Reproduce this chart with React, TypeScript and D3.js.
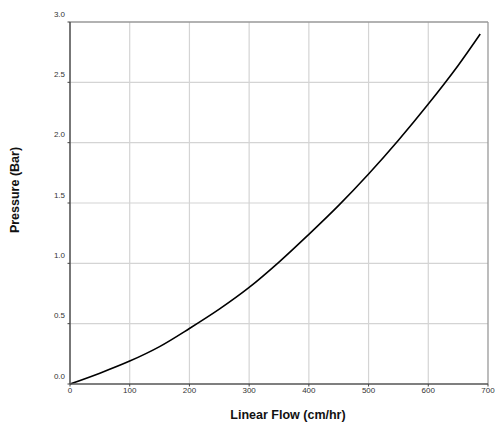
import React from "react";
import * as d3 from "d3";

const flow = [0, 50, 100, 150, 200, 250, 300, 350, 400, 450, 500, 550, 600, 650, 687];
const pressure = [0, 0.09, 0.19, 0.31, 0.46, 0.62, 0.8, 1.01, 1.24, 1.48, 1.74, 2.02, 2.32, 2.64, 2.9];
const xTicks = [0, 100, 200, 300, 400, 500, 600, 700];
const yTicks = [0, 0.5, 1.0, 1.5, 2.0, 2.5, 3.0];

const W = 495;
const H = 424;
const M = { left: 70, right: 7, top: 22, bottom: 40 };

export default function App() {
  const x = d3.scaleLinear().domain([0, 700]).range([M.left, W - M.right]);
  const y = d3.scaleLinear().domain([0, 3]).range([H - M.bottom, M.top]);
  const pts = flow.map((f, i) => [f, pressure[i]] as [number, number]);
  const line = d3
    .line<[number, number]>()
    .x((d) => x(d[0]))
    .y((d) => y(d[1]))
    .curve(d3.curveCatmullRom.alpha(0.5));
  const font = "Arial, 'Liberation Sans', Helvetica, sans-serif";
  const x0 = x(0), x1 = x(700), y0 = y(0), y1 = y(3);
  return (
    <svg
      width={W}
      height={H}
      style={{ position: "absolute", left: 0, top: 0, background: "#fff" }}
      fontFamily={font}
    >
      {xTicks.slice(1, -1).map((t) => (
        <line key={"gx" + t} x1={x(t)} x2={x(t)} y1={y1} y2={y0} stroke="#d4d4d4" strokeWidth={1.2} />
      ))}
      {yTicks.slice(1, -1).map((t) => (
        <line key={"gy" + t} x1={x0} x2={x1} y1={y(t)} y2={y(t)} stroke="#d4d4d4" strokeWidth={1.2} />
      ))}
      <line x1={x0} x2={x1} y1={y1} y2={y1} stroke="#999" strokeWidth={1.3} />
      <line x1={x1} x2={x1} y1={y1} y2={y0} stroke="#999" strokeWidth={1.3} />
      <path d={line(pts) || ""} fill="none" stroke="#000" strokeWidth={1.6} />
      <line x1={x0} x2={x0} y1={y1} y2={y0} stroke="#555" strokeWidth={1.6} />
      <line x1={x0} x2={x1} y1={y0} y2={y0} stroke="#555" strokeWidth={1.6} />
      {yTicks.map((t) => (
        <g key={"ty" + t}>
          <line x1={x0 - 2.5} x2={x0} y1={y(t)} y2={y(t)} stroke="#444" strokeWidth={1} />
          <text x={x0 - 5} y={y(t) - 5.5} textAnchor="end" fontSize={8} fill="#333">
            {t.toFixed(1)}
          </text>
        </g>
      ))}
      {xTicks.map((t) => (
        <g key={"tx" + t}>
          <line x1={x(t)} x2={x(t)} y1={y0} y2={y0 + 2.5} stroke="#444" strokeWidth={1} />
          <text x={x(t)} y={y0 + 8.5} textAnchor="middle" fontSize={8} fill="#333">
            {t}
          </text>
        </g>
      ))}
      <text x={288} y={419} textAnchor="middle" fontSize={12.5} fontWeight="bold" fill="#111">
        Linear Flow (cm/hr)
      </text>
      <text
        transform={`translate(19, 190) rotate(-90)`}
        textAnchor="middle"
        fontSize={12.5}
        fontWeight="bold"
        fill="#111"
      >
        Pressure (Bar)
      </text>
    </svg>
  );
}
